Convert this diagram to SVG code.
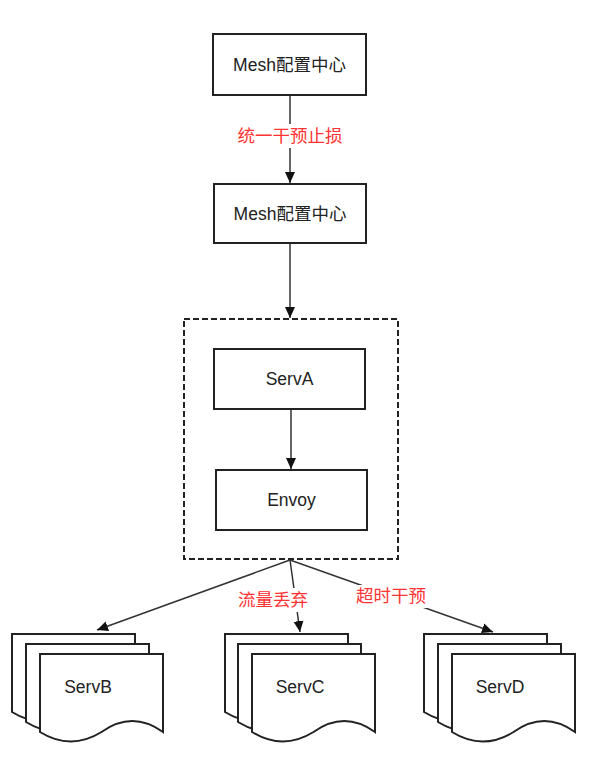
<svg xmlns="http://www.w3.org/2000/svg" width="590" height="760" viewBox="0 0 590 760">
<style>
.box{fill:#fff;stroke:#222;stroke-width:2}
.doc{fill:#fff;stroke:#222;stroke-width:2}
.txt{font-family:"Liberation Sans","Noto Sans CJK SC",sans-serif;font-size:17.5px;fill:#222;text-anchor:middle;dominant-baseline:central}
.lbl{font-family:"Liberation Sans","Noto Sans CJK SC",sans-serif;font-size:17.5px;fill:#ff3333;text-anchor:middle;dominant-baseline:central}
.edge{fill:none;stroke:#333;stroke-width:1.5}
</style>
<defs>
<marker id="arr" markerUnits="userSpaceOnUse" markerWidth="12" markerHeight="12" viewBox="0 0 12 12" refX="11" refY="6" orient="auto">
<path d="M0,1 L11,6 L0,11 z" fill="#111"/>
</marker>
<path id="docshape" d="M0,0 H123 V78 Q92.25,56 61.5,78 Q30.75,97 0,78 Z"/>
</defs>
<g id="edges">
<line class="edge" x1="290" y1="95" x2="290" y2="183" marker-end="url(#arr)"/>
<line class="edge" x1="290" y1="243" x2="290" y2="318" marker-end="url(#arr)"/>
<line class="edge" x1="291" y1="409" x2="291" y2="469" marker-end="url(#arr)"/>
<line class="edge" x1="290" y1="560" x2="97" y2="630" marker-end="url(#arr)"/>
<line class="edge" x1="290" y1="560" x2="300" y2="632" marker-end="url(#arr)"/>
<line class="edge" x1="290" y1="560" x2="493" y2="632" marker-end="url(#arr)"/>
<rect x="236" y="124" width="108" height="24" fill="#fff"/>
<text class="lbl" x="290" y="136">统一干预止损</text>
<rect x="236" y="588" width="74" height="24" fill="#fff"/>
<text class="lbl" x="273" y="600">流量丢弃</text>
<rect x="354" y="585" width="74" height="23" fill="#fff"/>
<text class="lbl" x="391" y="596">超时干预</text>
</g>
<g id="mesh1">
<rect class="box" x="213" y="34" width="153" height="61"/>
<text class="txt" x="289.5" y="65">Mesh配置中心</text>
</g>
<g id="mesh2">
<rect class="box" x="214" y="184" width="152" height="59"/>
<text class="txt" x="290" y="214">Mesh配置中心</text>
</g>
<g id="group">
<rect x="184" y="319" width="214" height="240" fill="none" stroke="#222" stroke-width="2" stroke-dasharray="6 3"/>
</g>
<g id="servA">
<rect class="box" x="214" y="349" width="151" height="60"/>
<text class="txt" x="289.5" y="379">ServA</text>
</g>
<g id="envoy">
<rect class="box" x="216" y="470" width="151" height="60"/>
<text class="txt" x="291.5" y="500">Envoy</text>
</g>
<g id="servB">
<use href="#docshape" class="doc" x="12" y="634"/>
<use href="#docshape" class="doc" x="26" y="644"/>
<use href="#docshape" class="doc" x="40" y="654"/>
<text class="txt" x="88" y="687">ServB</text>
</g>
<g id="servC">
<use href="#docshape" class="doc" x="225" y="634"/>
<use href="#docshape" class="doc" x="238" y="644"/>
<use href="#docshape" class="doc" x="252" y="654"/>
<text class="txt" x="300" y="687">ServC</text>
</g>
<g id="servD">
<use href="#docshape" class="doc" x="424" y="634"/>
<use href="#docshape" class="doc" x="438" y="644"/>
<use href="#docshape" class="doc" x="452" y="654"/>
<text class="txt" x="500" y="687">ServD</text>
</g>
</svg>
